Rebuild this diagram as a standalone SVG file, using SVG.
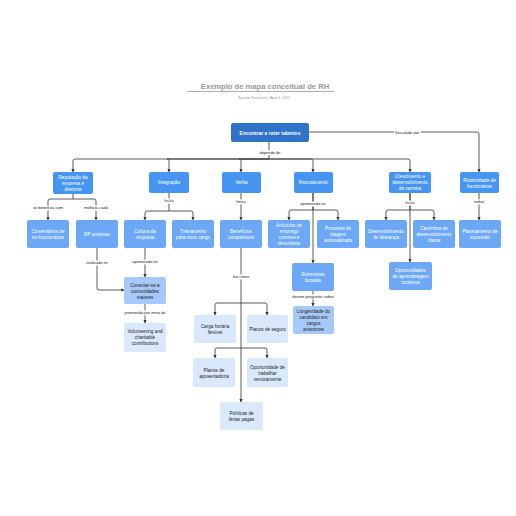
<svg xmlns="http://www.w3.org/2000/svg" width="516" height="516" viewBox="0 0 516 516">
<defs>
<marker id="arr" viewBox="0 0 6 6" refX="5.5" refY="3" markerWidth="4" markerHeight="4" orient="auto">
<path d="M0,0 L6,3 L0,6 z" fill="#333"/>
</marker>
<style>
text{font-family:"Liberation Sans",Arial,sans-serif;text-anchor:middle}
.ttl{font-size:7.6px;fill:#999;font-weight:bold}
.sub{font-size:3.6px;fill:#9a9a9a}
.c{fill:none;stroke:#333;stroke-width:0.8;marker-end:url(#arr)}
.lbl{font-size:4px;fill:#222}
.lb{fill:#fff}
.root rect{fill:#2f72c8}
.l1 rect{fill:#4795f3}
.l2 rect{fill:#6ca8f6}
.l3 rect{fill:#a6c8fa}
.l4 rect{fill:#dae8fc}
.root text{font-size:5px;fill:#fff;font-weight:bold}
.l1 text,.l2 text{font-size:4.7px;fill:#fff}
.l3 text,.l4 text{font-size:4.7px;fill:#222}
</style>
</defs>
<rect width="516" height="516" fill="#fff"/>
<text class="ttl" x="265" y="89">Exemplo de mapa conceitual de RH</text>
<line x1="187" y1="91.5" x2="334" y2="91.5" stroke="#888" stroke-width="0.7"/>
<text class="sub" x="264" y="98.5">System Templates  |  April 4, 2025</text>

<g id="connectors">
<path class="c" d="M269,142 V159 H75 Q73,159 73,161 V172"/>
<path class="c" d="M269,159 H167 Q169,159 169,161 V172"/>
<path class="c" d="M269,159 H239 Q241,159 241,161 V172"/>
<path class="c" d="M269,159 H311 Q313,159 313,161 V172"/>
<path class="c" d="M269,159 H408 Q410,159 410,161 V172"/>
<path class="c" d="M309,132 H477 Q479,132 479,134 V172"/>
<path class="c" d="M73,194 V199 H50 Q48,199 48,201 V220"/>
<path class="c" d="M73,199 H94 Q96,199 96,201 V220"/>
<path class="c" d="M169,193 V211 H147 Q145,211 145,213 V220"/>
<path class="c" d="M169,211 H191 Q193,211 193,213 V220"/>
<path class="c" d="M241,193 V220"/>
<path class="c" d="M313,193 V210 H291 Q289,210 289,212 V220"/>
<path class="c" d="M313,210 H336 Q338,210 338,212 V220"/>
<path class="c" d="M313,193 V263"/>
<path class="c" d="M410,193 V210 H388 Q386,210 386,212 V220"/>
<path class="c" d="M410,210 H432 Q434,210 434,212 V220"/>
<path class="c" d="M410,193 V262"/>
<path class="c" d="M479,193 V220"/>
<path class="c" d="M145,248 V277"/>
<path class="c" d="M97,248 V288 Q97,290 99,290 H124"/>
<path class="c" d="M145,304 V323"/>
<path class="c" d="M313,291 V306"/>
<path class="c" d="M241,248 V402"/>
<path class="c" d="M241,303 H217 Q215,303 215,305 V315"/>
<path class="c" d="M241,303 H265 Q267,303 267,305 V315"/>
<path class="c" d="M241,348 H217 Q215,348 215,350 V358"/>
<path class="c" d="M241,348 H265 Q267,348 267,350 V358"/>
<rect class="lb" x="256" y="150" width="28" height="5"/>
<text class="lbl" x="270" y="154">depende de</text>
<rect class="lb" x="394" y="130" width="27" height="5"/>
<text class="lbl" x="407" y="134">Vinculado por</text>
<rect class="lb" x="31" y="205.5" width="34" height="5"/>
<text class="lbl" x="48" y="209">se beneficia com</text>
<rect class="lb" x="83" y="205.5" width="26" height="5"/>
<text class="lbl" x="96" y="209">melhora cada</text>
<rect class="lb" x="162" y="198.5" width="14" height="5"/>
<text class="lbl" x="169" y="202">Inclui</text>
<rect class="lb" x="234" y="199.5" width="14" height="5"/>
<text class="lbl" x="241" y="203">limita</text>
<rect class="lb" x="299" y="201.5" width="28" height="5"/>
<text class="lbl" x="313" y="205">aprimorado se</text>
<rect class="lb" x="403" y="200.5" width="14" height="5"/>
<text class="lbl" x="410" y="204">Inclui</text>
<rect class="lb" x="472" y="199.5" width="14" height="5"/>
<text class="lbl" x="479" y="203">reduz</text>
<rect class="lb" x="131" y="259.5" width="28" height="5"/>
<text class="lbl" x="145" y="263">aprimorado se</text>
<rect class="lb" x="85" y="260.5" width="24" height="5"/>
<text class="lbl" x="97" y="264">realizado se</text>
<rect class="lb" x="123" y="310.5" width="44" height="5"/>
<text class="lbl" x="145" y="314">promovido por meio de</text>
<rect class="lb" x="291" y="294.5" width="44" height="5"/>
<text class="lbl" x="313" y="298">devem perguntar sobre</text>
<rect class="lb" x="231" y="274.5" width="20" height="5"/>
<text class="lbl" x="241" y="278">faz como</text>
</g>

<g id="n-root" class="root"><rect x="231" y="123" width="78" height="19" rx="2"/><text x="270" y="134.5">Encontrar e reter talentos</text></g>

<g id="n-reputacao" class="l1"><rect x="53" y="172" width="40" height="22" rx="2"/><text x="73" y="178.5">Reputação da</text><text x="73" y="184.5">empresa e</text><text x="73" y="190.5">diretoria</text></g>
<g id="n-integracao" class="l1"><rect x="149" y="172" width="40" height="21" rx="2"/><text x="169" y="184.3">Integração</text></g>
<g id="n-verba" class="l1"><rect x="222" y="172" width="39" height="21" rx="2"/><text x="241.5" y="184.3">Verba</text></g>
<g id="n-recrutamento" class="l1"><rect x="294" y="172" width="39" height="21" rx="2"/><text x="313.5" y="184.3">Recrutamento</text></g>
<g id="n-crescimento" class="l1"><rect x="389" y="172" width="42" height="21" rx="2"/><text x="410" y="178">Crescimento e</text><text x="410" y="184">desenvolvimento</text><text x="410" y="190">de carreira</text></g>
<g id="n-rotatividade" class="l1"><rect x="460" y="172" width="39" height="21" rx="2"/><text x="479.5" y="181.5">Rotatividade de</text><text x="479.5" y="187.5">funcionários</text></g>

<g id="n-comentarios" class="l2"><rect x="27" y="220" width="42" height="28" rx="2"/><text x="48" y="233">Comentários de</text><text x="48" y="239">ex-funcionários</text></g>
<g id="n-rp" class="l2"><rect x="76" y="220" width="42" height="28" rx="2"/><text x="97" y="235.5">RP positivas</text></g>
<g id="n-cultura" class="l2"><rect x="124" y="220" width="42" height="28" rx="2"/><text x="145" y="233">Cultura da</text><text x="145" y="239">empresa</text></g>
<g id="n-treinamento" class="l2"><rect x="172" y="220" width="42" height="28" rx="2"/><text x="193" y="233">Treinamento</text><text x="193" y="239">para novo cargo</text></g>
<g id="n-beneficios" class="l2"><rect x="220" y="220" width="42" height="28" rx="2"/><text x="241" y="233">Benefícios</text><text x="241" y="239">competitivos</text></g>
<g id="n-anuncios" class="l2"><rect x="268" y="220" width="42" height="28" rx="2"/><text x="289" y="227">Anúncios de</text><text x="289" y="233">emprego</text><text x="289" y="239">corretos e</text><text x="289" y="245">descritivos</text></g>
<g id="n-processo" class="l2"><rect x="317" y="220" width="42" height="28" rx="2"/><text x="338" y="230">Processo de</text><text x="338" y="236">triagem</text><text x="338" y="242">automatizado</text></g>
<g id="n-lideranca" class="l2"><rect x="365" y="220" width="42" height="28" rx="2"/><text x="386" y="233">Desenvolvimento</text><text x="386" y="239">de liderança</text></g>
<g id="n-caminhos" class="l2"><rect x="413" y="220" width="42" height="28" rx="2"/><text x="434" y="230">Caminhos de</text><text x="434" y="236">desenvolvimento</text><text x="434" y="242">claros</text></g>
<g id="n-planejamento" class="l2"><rect x="459" y="220" width="42" height="28" rx="2"/><text x="480" y="233">Planejamento de</text><text x="480" y="239">sucessão</text></g>

<g id="n-entrevistas" class="l2"><rect x="292" y="263" width="42" height="28" rx="2"/><text x="313" y="276">Entrevistas</text><text x="313" y="282">focadas</text></g>
<g id="n-oportunidades" class="l2"><rect x="389" y="262" width="43" height="28" rx="2"/><text x="410.5" y="272">Oportunidades</text><text x="410.5" y="278">de aprendizagem</text><text x="410.5" y="284">contínua</text></g>
<g id="n-conectar" class="l3"><rect x="124" y="277" width="42" height="27" rx="2"/><text x="145" y="286.5">Conectar-se a</text><text x="145" y="292.5">comunidades</text><text x="145" y="298.5">maiores</text></g>
<g id="n-longevidade" class="l3"><rect x="293" y="306" width="41" height="28" rx="2"/><text x="313.5" y="313">Longevidade do</text><text x="313.5" y="319">candidato em</text><text x="313.5" y="325">cargos</text><text x="313.5" y="331">anteriores</text></g>
<g id="n-volunteering" class="l4"><rect x="124" y="323" width="42" height="29" rx="2"/><text x="145" y="333">Volunteering and</text><text x="145" y="339">charitable</text><text x="145" y="345">contributions</text></g>
<g id="n-carga" class="l4"><rect x="194" y="315" width="42" height="28" rx="2"/><text x="215" y="328">Carga horária</text><text x="215" y="334">flexível</text></g>
<g id="n-seguro" class="l4"><rect x="247" y="315" width="41" height="28" rx="2"/><text x="267.5" y="330.5">Planos de seguro</text></g>
<g id="n-aposentadoria" class="l4"><rect x="193" y="358" width="42" height="29" rx="2"/><text x="214" y="371.5">Planos de</text><text x="214" y="377.5">aposentadoria</text></g>
<g id="n-remoto" class="l4"><rect x="247" y="358" width="41" height="29" rx="2"/><text x="267.5" y="368.5">Oportunidade de</text><text x="267.5" y="374.5">trabalhar</text><text x="267.5" y="380.5">remotamente</text></g>
<g id="n-ferias" class="l4"><rect x="220" y="402" width="43" height="28" rx="2"/><text x="241.5" y="415">Políticas de</text><text x="241.5" y="421">férias pagas</text></g>
</svg>
